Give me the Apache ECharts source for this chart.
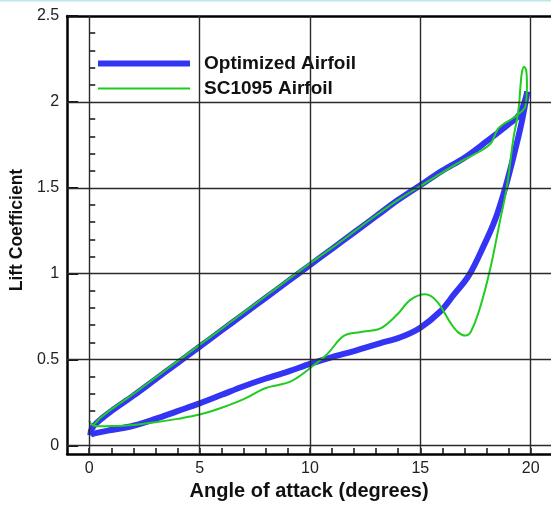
<!DOCTYPE html>
<html>
<head>
<meta charset="utf-8">
<script src="https://cdn.jsdelivr.net/npm/echarts@6/dist/echarts.min.js"></script>
<style>
  html, body { margin: 0; padding: 0; background: #fff; }
  #chart { width: 551px; height: 506px; }
</style>
</head>
<body>
<div id="chart"></div>
<script>
// Lift coefficient hysteresis loops over a pitching cycle (upstroke, then downstroke)
const optimizedAlpha = [0.05, 0.12, 0.5, 1, 2, 3, 4, 5, 6, 7, 8, 9, 10, 11, 12, 13, 14, 15, 16, 17, 18, 19, 19.5, 19.85,
  19.6, 19.25, 18.84, 18.39, 17.87, 17.2, 16.5, 15.9, 15.0, 14.1, 13.2, 12, 11, 10, 9, 8, 7, 6, 5, 4, 3, 2, 1, 0.4, 0.1, 0.05];
const optimizedCl = [0.06, 0.1, 0.15, 0.2, 0.29, 0.385, 0.48, 0.575, 0.67, 0.765, 0.86, 0.955, 1.05, 1.145, 1.24, 1.335, 1.43, 1.515, 1.6, 1.675, 1.77, 1.87, 1.93, 2.06,
  1.887, 1.696, 1.496, 1.315, 1.162, 0.99, 0.875, 0.78, 0.686, 0.63, 0.596, 0.55, 0.515, 0.475, 0.43, 0.39, 0.345, 0.295, 0.245, 0.2, 0.155, 0.115, 0.09, 0.075, 0.065, 0.06];

const sc1095Alpha = [0.0, 0.15, 0.5, 1, 2, 3, 4, 5, 6, 7, 8, 9, 10, 11, 12, 13, 14, 15, 16, 17, 17.8, 18.2, 18.5, 18.75, 19.2, 19.55, 19.75,
  19.83, 19.8, 19.7, 19.6, 19.53, 19.47, 19.38, 19.22, 18.92, 18.62, 18.17, 17.7, 17.3, 17.05, 16.7, 16.36, 15.76, 15.23, 14.55, 13.95, 13.2, 12.3, 11.53,
  10.79, 10.2, 9.13, 8, 7, 6, 5, 4, 3, 2, 1, 0.4, 0.15];
const sc1095Cl = [0.145, 0.12, 0.16, 0.21, 0.3, 0.395, 0.49, 0.585, 0.68, 0.775, 0.87, 0.965, 1.06, 1.15, 1.245, 1.34, 1.43, 1.51, 1.59, 1.665, 1.72, 1.76, 1.84, 1.87, 1.905, 1.94, 1.97,
  2.1, 2.18, 2.205, 2.17, 2.08, 1.98, 1.9, 1.79, 1.505, 1.315, 1.03, 0.8, 0.665, 0.64, 0.66, 0.715, 0.838, 0.88, 0.848, 0.762, 0.682, 0.661, 0.638,
  0.533, 0.47, 0.373, 0.335, 0.27, 0.22, 0.18, 0.155, 0.135, 0.12, 0.113, 0.112, 0.118];

// Axis ticks and labels
const xMajorTicks = [0, 5, 10, 15, 20];
const xMinorTicks = [0, 1, 2, 3, 4, 5, 6, 7, 8, 9, 10, 11, 12, 13, 14, 15, 16, 17, 18, 19, 20];
const yMajorTicks = [0, 0.5, 1, 1.5, 2, 2.5];
const yMinorTicks = [0.1, 0.2, 0.3, 0.4, 0.6, 0.7, 0.8, 0.9, 1.1, 1.2, 1.3, 1.4, 1.6, 1.7, 1.8, 1.9, 2.1, 2.2, 2.3, 2.4];
const yGridLines = [0, 0.5, 1, 1.5, 2];

const FONT = "'Liberation Sans', Arial, Helvetica, sans-serif";
const BLUE = '#3434f4';
const GREEN = '#1fcc1f';

const pairs = (xs, ys) => xs.map((x, i) => [x, ys[i]]);

const chart = echarts.init(document.getElementById('chart'), null, { renderer: 'canvas' });

const legendText = { fontFamily: FONT, fontSize: 19, fontWeight: 'bold', color: '#111', padding: [0, 0, 0, 9] };

chart.setOption({
  animation: false,
  backgroundColor: '#fff',
  grid: { left: 66, top: 16, right: 0, height: 446, containLabel: false },
  graphic: [
    { type: 'rect', left: 0, top: 0, shape: { width: 551, height: 1.5 }, style: { fill: '#bfe6e8' }, silent: true }
  ],
  legend: [
    {
      data: [{ name: 'Optimized Airfoil', icon: 'rect' }],
      left: 98, top: 54, padding: 0, itemWidth: 92, itemHeight: 6,
      selectedMode: false, textStyle: legendText
    },
    {
      data: [{ name: 'SC1095 Airfoil', icon: 'rect' }],
      left: 98, top: 79, padding: 0, itemWidth: 92, itemHeight: 2,
      selectedMode: false, textStyle: legendText
    }
  ],
  xAxis: [
    {
      type: 'value', min: -1, max: 20.92, position: 'bottom',
      name: 'Angle of attack (degrees)', nameLocation: 'middle', nameGap: 24,
      nameTextStyle: { fontFamily: FONT, fontSize: 20, fontWeight: 'bold', color: '#111' },
      axisLine: { show: true, onZero: false, lineStyle: { color: '#000', width: 2.5 } },
      axisTick: { show: true, inside: true, length: 6, customValues: xMinorTicks, lineStyle: { color: '#111', width: 1.5 } },
      axisLabel: { show: true, customValues: xMajorTicks, fontFamily: FONT, fontSize: 16, color: '#222', margin: 6 },
      splitLine: { show: false }
    },
    {
      type: 'value', min: -1, max: 20.92, position: 'top',
      axisLine: { show: true, onZero: false, lineStyle: { color: '#000', width: 2.5 } },
      axisTick: { show: false }, axisLabel: { show: false }, splitLine: { show: false }
    }
  ],
  yAxis: [
    {
      type: 'value', min: -0.05, max: 2.5, position: 'left',
      name: 'Lift Coefficient', nameLocation: 'middle', nameGap: 28, nameRotate: 90,
      nameTextStyle: { fontFamily: FONT, fontSize: 17.5, fontWeight: 'bold', color: '#111', padding: [0, 0, 0, 10] },
      axisLine: { show: true, onZero: false, lineStyle: { color: '#000', width: 2.5 } },
      axisTick: { show: true, inside: true, length: 11, customValues: yMajorTicks, lineStyle: { color: '#111', width: 2 } },
      axisLabel: { show: true, customValues: yMajorTicks, fontFamily: FONT, fontSize: 16, color: '#222', margin: 8 },
      splitLine: { show: false }
    },
    {
      type: 'value', min: -0.05, max: 2.5, position: 'left',
      axisLine: { show: false },
      axisTick: { show: true, inside: true, length: 6, customValues: yMinorTicks, lineStyle: { color: '#111', width: 1.5 } },
      axisLabel: { show: false }, splitLine: { show: false }
    }
  ],
  series: [
    {
      name: 'gridlines', type: 'line', data: [], z: 1, silent: true,
      markLine: {
        silent: true, symbol: ['none', 'none'], label: { show: false },
        lineStyle: { color: '#2a2a2a', width: 1.4, type: 'solid' },
        data: xMajorTicks.map(v => ({ xAxis: v })).concat(yGridLines.map(v => ({ yAxis: v })))
      }
    },
    {
      name: 'Optimized Airfoil', type: 'line', z: 3,
      data: pairs(optimizedAlpha, optimizedCl),
      smooth: 0.35, symbol: 'none', showSymbol: false,
      lineStyle: { color: BLUE, width: 6 }, itemStyle: { color: BLUE }
    },
    {
      name: 'SC1095 Airfoil', type: 'line', z: 4,
      data: pairs(sc1095Alpha, sc1095Cl),
      smooth: 0.35, symbol: 'none', showSymbol: false,
      lineStyle: { color: GREEN, width: 2 }, itemStyle: { color: GREEN }
    }
  ]
});
</script>
</body>
</html>
